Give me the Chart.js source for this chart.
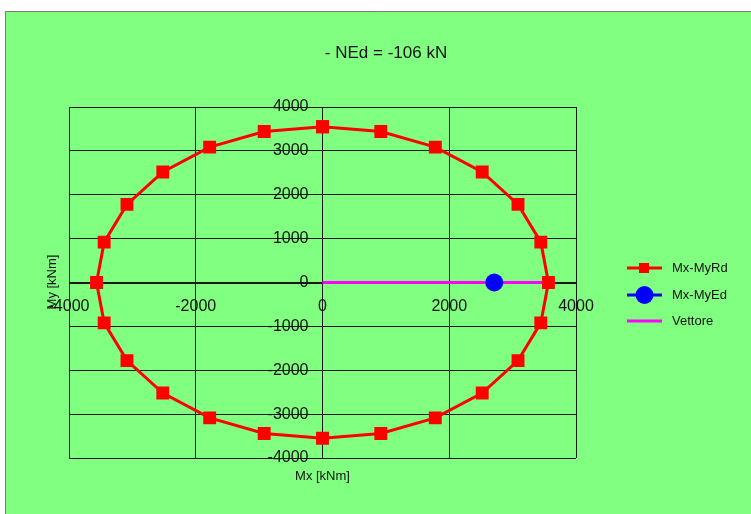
<!DOCTYPE html>
<html>
<head>
<meta charset="utf-8">
<script src="https://cdn.jsdelivr.net/npm/chart.js@4/dist/chart.umd.min.js"></script>
<style>
html,body{margin:0;padding:0;background:#fff;}
#wrap{position:absolute;left:0;top:0;width:751px;height:514px;}
</style>
</head>
<body>
<div id="wrap"><canvas id="c" width="751" height="514"></canvas></div>
<script>
const titleText = "- NEd = -106 kN";
const xTitle = "Mx [kNm]";
const yTitle = "My [kNm]";
const seriesNames = ["Mx-MyRd", "Mx-MyEd", "Vettore"];
const rdMx = [0, 920, 1780, 2520, 3085, 3445, 3565, 3445, 3085, 2520, 1780, 920, 0, -920, -1780, -2520, -3085, -3445, -3565, -3445, -3085, -2520, -1780, -920, 0];
const rdMy = [3550, 3440, 3085, 2520, 1780, 920, 0, -920, -1780, -2520, -3085, -3440, -3550, -3440, -3085, -2520, -1780, -920, 0, 920, 1780, 2520, 3085, 3440, 3550];
const edMx = [2710];
const edMy = [0];
const vecMx = [0, 3565];
const vecMy = [0, 0];
const xMin = -4000, xMax = 4000, xStep = 2000;
const yMin = -4000, yMax = 4000, yStep = 1000;

const toPts = (xs, ys) => xs.map((x, i) => ({x: x, y: ys[i]}));

const FONT = "Arial, 'Liberation Sans', sans-serif";

const bgPlugin = {
  id: 'bg',
  beforeDraw(chart) {
    const ctx = chart.ctx;
    ctx.save();
    ctx.fillStyle = '#ffffff';
    ctx.fillRect(0, 0, chart.width, chart.height);
    ctx.fillStyle = '#80ff80';
    ctx.fillRect(5, 11, chart.width - 5, chart.height - 11);
    ctx.strokeStyle = '#7a7a7a';
    ctx.lineWidth = 1;
    ctx.beginPath();
    ctx.moveTo(5.5, chart.height);
    ctx.lineTo(5.5, 11.5);
    ctx.lineTo(chart.width, 11.5);
    ctx.stroke();
    ctx.restore();
  },
  afterDraw(chart) {
    const ctx = chart.ctx;
    const a = chart.chartArea;
    ctx.save();
    ctx.fillStyle = '#111';
    ctx.textAlign = 'center';
    ctx.textBaseline = 'middle';
    ctx.font = "17px " + FONT;
    ctx.fillText(titleText, 386, 53);
    ctx.font = "13px " + FONT;
    ctx.fillText(xTitle, (a.left + a.right) / 2, 476);
    ctx.translate(52, 282);
    ctx.rotate(-Math.PI / 2);
    ctx.fillText(yTitle, 0, 0);
    ctx.restore();

    // legend
    const items = [
      {c: '#ff0000', m: 'rect'},
      {c: '#0000ff', m: 'circle'},
      {c: '#ff00ff', m: null}
    ];
    const ys = [268, 295, 321];
    ctx.save();
    items.forEach((it, i) => {
      const y = ys[i];
      ctx.strokeStyle = it.c;
      ctx.lineWidth = 3;
      ctx.beginPath();
      ctx.moveTo(627, y);
      ctx.lineTo(662, y);
      ctx.stroke();
      ctx.fillStyle = it.c;
      if (it.m === 'rect') {
        ctx.fillRect(639, y - 5, 10, 10);
      } else if (it.m === 'circle') {
        ctx.beginPath();
        ctx.arc(644.5, y, 9, 0, Math.PI * 2);
        ctx.fill();
      }
      ctx.fillStyle = '#111';
      ctx.font = "13px " + FONT;
      ctx.textAlign = 'left';
      ctx.textBaseline = 'middle';
      ctx.fillText(seriesNames[i], 672, y);
    });
    ctx.restore();
  }
};

const plainTick = (v) => String(v);

new Chart(document.getElementById('c'), {
  type: 'scatter',
  data: {
    datasets: [
      {
        label: seriesNames[0],
        data: toPts(rdMx, rdMy),
        showLine: true,
        borderColor: '#ff0000',
        backgroundColor: '#ff0000',
        borderWidth: 3,
        pointStyle: 'rect',
        pointRadius: 7,
        pointHoverRadius: 7,
        tension: 0
      },
      {
        label: seriesNames[1],
        data: toPts(edMx, edMy),
        showLine: false,
        borderColor: '#0000ff',
        backgroundColor: '#0000ff',
        pointStyle: 'circle',
        pointRadius: 9,
        pointBorderWidth: 0
      },
      {
        label: seriesNames[2],
        data: toPts(vecMx, vecMy),
        showLine: true,
        borderColor: '#ff00ff',
        backgroundColor: '#ff00ff',
        borderWidth: 3,
        pointRadius: 0
      }
    ]
  },
  options: {
    responsive: false,
    animation: false,
    events: [],
    layout: {padding: {left: 69, top: 107, right: 175, bottom: 56}},
    plugins: {legend: {display: false}, title: {display: false}, tooltip: {enabled: false}},
    scales: {
      x: {
        type: 'linear',
        position: 'center',
        min: xMin, max: xMax,
        ticks: {stepSize: xStep, color: '#111', font: {size: 16, family: FONT}, padding: 14, maxRotation: 0, autoSkip: false, callback: plainTick},
        grid: {color: '#1a1a1a', lineWidth: 1, drawTicks: false},
        border: {color: '#1a1a1a', width: 1}
      },
      y: {
        type: 'linear',
        position: 'center',
        min: yMin, max: yMax,
        ticks: {stepSize: yStep, color: '#111', font: {size: 16, family: FONT}, padding: 14, autoSkip: false, callback: plainTick},
        grid: {color: '#1a1a1a', lineWidth: 1, drawTicks: false},
        border: {color: '#1a1a1a', width: 1}
      }
    }
  },
  plugins: [bgPlugin]
});
</script>
</body>
</html>
